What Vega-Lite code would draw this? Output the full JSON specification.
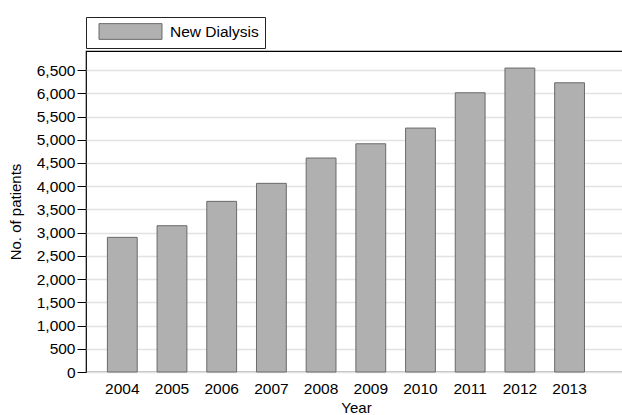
{
  "$schema": "https://vega.github.io/schema/vega-lite/v6.json",
  "autosize": "none",
  "width": 540,
  "height": 321,
  "padding": {"left": 86, "top": 51, "right": 0, "bottom": 43},
  "background": "white",
  "config": {
    "font": "Liberation Sans",
    "view": {"stroke": "black", "strokeWidth": 1.2}
  },
  "data": {
    "values": [
      {"year": "2004", "patients": 2899, "series": "New Dialysis"},
      {"year": "2005", "patients": 3149, "series": "New Dialysis"},
      {"year": "2006", "patients": 3673, "series": "New Dialysis"},
      {"year": "2007", "patients": 4061, "series": "New Dialysis"},
      {"year": "2008", "patients": 4606, "series": "New Dialysis"},
      {"year": "2009", "patients": 4913, "series": "New Dialysis"},
      {"year": "2010", "patients": 5251, "series": "New Dialysis"},
      {"year": "2011", "patients": 6011, "series": "New Dialysis"},
      {"year": "2012", "patients": 6543, "series": "New Dialysis"},
      {"year": "2013", "patients": 6226, "series": "New Dialysis"}
    ]
  },
  "mark": {"type": "bar", "stroke": "#6a6a6a", "strokeWidth": 1, "fillOpacity": 1},
  "encoding": {
    "x": {
      "field": "year",
      "type": "ordinal",
      "scale": {"paddingInner": 0.4, "paddingOuter": 0.633, "align": 0.34},
      "axis": {
        "title": "Year",
        "titleFontSize": 15,
        "titleFontWeight": "normal",
        "titleColor": "black",
        "titlePadding": 4,
        "labelAngle": 0,
        "labelFontSize": 15.5,
        "labelColor": "black",
        "labelPadding": 9,
        "ticks": false,
        "domain": false,
        "grid": false
      }
    },
    "y": {
      "field": "patients",
      "type": "quantitative",
      "scale": {"domain": [0, 6910], "nice": false},
      "axis": {
        "title": "No. of patients",
        "titleFontSize": 15,
        "titleFontWeight": "normal",
        "titleColor": "black",
        "titlePadding": 13,
        "values": [0, 500, 1000, 1500, 2000, 2500, 3000, 3500, 4000, 4500, 5000, 5500, 6000, 6500],
        "format": ",.0f",
        "labelFontSize": 15.5,
        "labelColor": "black",
        "labelPadding": 2,
        "tickSize": 9,
        "tickColor": "black",
        "domain": false,
        "grid": true,
        "gridColor": "#e2e2e2",
        "gridWidth": 1.5
      }
    },
    "fill": {
      "field": "series",
      "type": "nominal",
      "scale": {"range": ["#b0b0b0"]},
      "legend": {
        "title": null,
        "orient": "none",
        "legendX": 0,
        "legendY": -34,
        "strokeColor": "#222",
        "fillColor": "white",
        "padding": 6,
        "symbolType": "M-4,-1H4V1H-4Z",
        "symbolSize": 248,
        "symbolOffset": 30,
        "symbolStrokeColor": "#6a6a6a",
        "symbolStrokeWidth": 1,
        "symbolOpacity": 1,
        "labelFontSize": 15.5,
        "labelColor": "black",
        "labelOffset": 31,
        "labelExpr": "datum.label + '\u00a0\u00a0\u00a0\u00a0\u00a0\u00a0'",
        "offset": 0
      }
    }
  }
}
